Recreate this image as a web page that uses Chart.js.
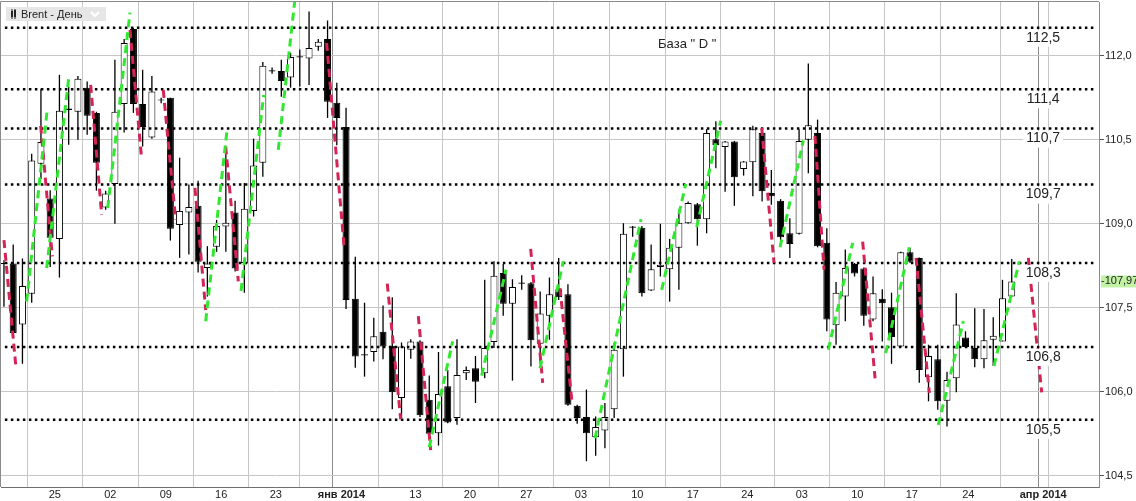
<!DOCTYPE html>
<html>
<head>
<meta charset="utf-8">
<script src="https://cdn.jsdelivr.net/npm/chart.js@4.4.0/dist/chart.umd.min.js"></script>
<style>
  html, body { margin: 0; padding: 0; background: #fff; }
  canvas { display: block; }
</style>
</head>
<body>
<canvas id="myChart" width="1136" height="501"></canvas>
<script>
// daily Brent candles, one slot per session
const opens = [108.28,108.29,107.20,107.75,110.07,109.45,108.73,111.03,111.00,111.43,
  110.98,109.29,109.71,111.14,112.48,111.14,110.54,111.20,111.25,108.98,
  109.20,109.32,108.21,108.59,108.95,109.20,108.30,109.23,110.09,111.72,
  111.73,111.61,111.97,111.95,112.16,112.30,111.16,110.73,107.66,106.65,
  106.71,107.07,106.82,105.89,106.75,106.90,105.86,105.26,106.10,105.53,
  106.33,106.42,106.33,106.89,108.12,107.57,107.93,107.94,106.86,107.36,
  107.83,107.74,105.75,105.55,105.19,105.31,105.69,106.76,108.93,108.93,
  107.81,108.23,108.19,108.57,109.01,109.35,109.08,110.51,110.37,110.47,
  109.98,110.10,110.62,109.55,109.41,108.83,108.82,110.50,110.62,108.66,
  107.19,107.70,108.28,108.20,107.29,107.66,107.51,106.81,108.49,108.39,
  106.26,106.58,105.84,106.24,106.97,106.78,106.58,106.93,106.90,107.70];
const highs = [108.35,108.63,108.38,110.25,111.41,109.60,111.66,111.45,111.64,111.54,
  111.00,109.59,111.93,112.30,112.50,111.75,111.64,111.25,111.25,110.18,
  109.70,109.77,108.60,109.07,110.27,109.41,109.73,110.52,111.89,111.79,
  111.93,112.05,112.11,112.79,112.30,112.63,111.52,111.07,108.41,107.59,
  107.32,107.54,107.69,106.88,106.94,106.92,106.29,106.71,106.39,106.94,
  106.45,106.64,108.00,108.33,108.28,108.01,108.08,107.96,107.79,108.04,
  108.39,107.92,105.77,106.04,105.56,105.80,106.87,109.01,108.96,108.96,
  108.63,109.00,108.73,109.25,109.40,109.37,110.69,110.83,110.48,110.48,
  110.12,110.75,110.63,109.96,109.44,109.10,110.69,111.86,110.86,108.92,
  107.96,108.54,108.30,108.22,108.06,107.83,107.77,108.50,108.57,108.40,
  106.84,106.84,106.36,107.76,107.08,107.49,107.48,107.33,108.00,108.37];
const lows = [107.52,107.00,106.50,107.59,109.80,108.23,108.04,110.41,110.50,110.59,
  109.59,109.25,109.00,110.63,110.98,110.38,110.52,111.15,108.70,108.39,
  108.45,108.13,107.70,108.50,108.50,108.15,107.77,109.13,109.84,111.68,
  111.27,111.43,111.45,111.48,112.09,110.89,110.40,107.48,106.43,106.27,
  106.54,106.58,105.69,105.50,106.59,105.55,105.20,105.04,105.44,105.41,
  106.21,105.80,106.24,106.78,107.36,106.20,107.82,106.45,106.50,106.93,
  107.64,105.75,105.43,104.76,104.86,104.99,105.53,106.27,108.77,107.70,
  107.80,108.06,107.61,107.82,109.00,108.61,108.83,109.99,109.57,109.32,
  109.86,109.49,109.40,109.34,108.63,108.39,108.81,109.90,108.58,107.08,
  106.84,107.26,108.06,107.18,107.26,106.90,106.50,106.80,108.30,106.16,
  105.83,105.68,105.38,105.99,106.78,106.44,106.42,106.46,106.90,107.70];
const closes = [108.30,107.05,107.89,110.13,110.46,108.75,111.02,111.06,111.59,110.93,
  110.09,109.54,111.00,112.23,111.14,110.73,111.36,111.22,108.91,109.23,
  109.30,108.32,108.29,108.96,109.02,108.20,109.27,110.04,111.82,111.74,
  111.55,111.98,111.99,112.14,112.25,111.18,110.89,107.64,106.63,106.67,
  106.99,106.81,105.99,106.81,106.90,105.58,105.25,105.96,105.45,106.30,
  106.39,106.18,106.78,108.07,107.57,107.87,107.95,106.92,107.40,107.74,
  107.69,105.77,105.53,105.26,105.37,105.55,106.75,108.82,108.95,107.76,
  108.19,108.27,108.57,109.02,109.37,109.08,110.62,110.40,110.47,109.83,
  110.11,110.69,109.58,109.49,108.76,108.64,110.48,110.76,108.60,107.29,
  107.77,108.21,108.11,107.36,107.76,107.58,106.98,108.49,108.32,106.39,
  106.64,105.83,106.21,107.20,106.80,106.58,106.92,107.00,107.67,107.97];

// swing legs: [fromSlot, fromPrice, toSlot, toPrice]
const greenLegs = [[2.45,107.61,4.68,111.04],[4.62,108.21,7.03,111.64],[11.22,109.28,13.63,112.77],
  [21.82,107.26,24.16,110.72],[25.64,107.80,28.09,111.30],[29.67,110.32,31.5,113.05],
  [46.00,105.01,48.53,106.90],[51.67,106.29,54.30,108.18],[57.98,106.42,60.50,108.33],
  [63.93,105.17,68.90,109.08],[71.14,107.82,73.74,109.71],[74.93,108.94,77.52,110.84],
  [83.94,108.58,86.46,110.49],[89.16,106.75,91.80,108.66],[95.37,106.69,97.92,108.58],
  [101.06,105.41,103.77,107.26],[107.08,106.46,109.82,108.33]];
const redLegs = [[0.00,108.71,1.30,106.43],[3.97,110.75,5.23,108.42],[9.38,111.48,10.57,109.16],
  [13.63,112.46,14.89,110.16],[17.23,111.39,18.57,109.07],[20.66,109.64,21.82,107.46],
  [23.98,110.38,25.35,107.97],[34.90,112.23,36.81,108.55],[41.46,107.93,42.91,105.51],
  [44.82,107.35,46.15,104.96],[56.97,108.55,58.27,106.16],[60.14,107.85,61.47,105.77],
  [81.96,110.71,83.29,108.30],[87.72,110.57,88.70,108.18],[92.88,108.68,94.22,106.24],
  [98.65,108.39,100.09,105.98],[110.80,108.39,112.24,105.99]];

const levels = [112.5, 111.4, 110.7, 109.7, 108.3, 106.8, 105.5];
const levelFrom = 0.1, levelTo = 118.2;

const yTicks = [104.5, 106.0, 107.5, 109.0, 110.5, 112.0];
const weekTicks = [5.5, 11.5, 17.5, 23.5, 29.4, 34.5, 44.5, 50.4, 56.5, 62.4, 68.5, 74.5, 80.4, 86.3, 92.3, 98.2, 104.3, 111.3];
const weekLabels = ['25','02','09','16','23','','13','20','27','03','10','17','24','03','10','17','24',''];
const monthTicks = [36.5, 112.4];
const monthLabels = ['янв 2014', 'апр 2014'];

const lastPrice = 107.97;
const baseNote = { text: 'База " D "', x: 73.9, y: 112.2 };

const xMin = -0.32, xMax = 118.44, yMin = 104.30, yMax = 112.96;
const green = '#30e830', red = '#d42456';

const fmt = v => v.toFixed(1).replace('.', ',');
const allTicks = weekTicks.map((v, i) => ({ value: v, label: weekLabels[i], month: false }))
  .concat(monthTicks.map((v, i) => ({ value: v, label: monthLabels[i], month: true })))
  .sort((a, b) => a.value - b.value);

const slots = opens.map((_, i) => i);
const datasets = [];

datasets.push({
  type: 'bar',
  data: slots.map(i => ({ x: i, y: [lows[i], highs[i]] })),
  backgroundColor: '#000',
  borderWidth: 0,
  barThickness: 1.3,
  inflateAmount: 0,
  grouped: false,
  order: 4
});
datasets.push({
  type: 'bar',
  data: slots.map(i => ({ x: i, y: [Math.min(opens[i], closes[i]), Math.max(opens[i], closes[i])] })),
  backgroundColor: slots.map(i => closes[i] >= opens[i] ? '#fff' : '#000'),
  borderColor: '#000',
  borderWidth: 1,
  borderSkipped: false,
  barThickness: 7,
  inflateAmount: 0,
  grouped: false,
  order: 3
});

levels.forEach(v => datasets.push({
  type: 'line',
  data: [{ x: levelFrom, y: v }, { x: levelTo, y: v }],
  borderColor: '#000',
  borderWidth: 2.5,
  borderDash: [2.5, 3.5],
  pointRadius: 0,
  order: 2
}));

const addLeg = (leg, color) => datasets.push({
  type: 'line',
  data: [{ x: leg[0], y: leg[1] }, { x: leg[2], y: leg[3] }],
  borderColor: color,
  borderWidth: 3,
  borderDash: [8, 5],
  borderCapStyle: 'butt',
  pointRadius: 0,
  order: 1
});
greenLegs.forEach(l => addLeg(l, green));
redLegs.forEach(l => addLeg(l, red));

const extras = {
  id: 'extras',
  beforeDatasetsDraw(chart) {
    const { ctx, chartArea: a } = chart;
    ctx.save();
    ctx.strokeStyle = '#8a8a8a';
    ctx.lineWidth = 1;
    ctx.beginPath();
    ctx.moveTo(a.left - 0.5, a.bottom);
    ctx.lineTo(a.left - 0.5, a.top - 0.5);
    ctx.lineTo(a.right, a.top - 0.5);
    ctx.stroke();
    ctx.restore();
  },
  afterDatasetsDraw(chart) {
    const { ctx } = chart;
    const xs = chart.scales.x, ys = chart.scales.y;
    ctx.save();
    ctx.font = '14px "Liberation Sans", Arial, sans-serif';
    ctx.textAlign = 'center';
    ctx.textBaseline = 'middle';
    const lx = xs.getPixelForValue(monthTicks[1]);
    levels.forEach(v => {
      const py = ys.getPixelForValue(v);
      const t = fmt(v);
      const w = ctx.measureText(t).width + 6;
      ctx.fillStyle = '#fff';
      ctx.fillRect(lx - w / 2, py + 2, w, 17);
      ctx.fillStyle = '#222';
      ctx.fillText(t, lx, py + 10);
    });
    ctx.font = '13px "Liberation Sans", Arial, sans-serif';
    ctx.fillStyle = '#222';
    ctx.fillText(baseNote.text, xs.getPixelForValue(baseNote.x), ys.getPixelForValue(baseNote.y));
    ctx.restore();
  },
  afterDraw(chart) {
    const { ctx, chartArea: a } = chart;
    const ys = chart.scales.y;
    ctx.save();
    // last price tag
    const py = ys.getPixelForValue(lastPrice);
    ctx.fillStyle = '#c2f3a4';
    ctx.fillRect(a.right + 2, py - 6, chart.width - a.right - 2, 12);
    ctx.fillStyle = '#222';
    ctx.font = '11px "Liberation Sans", Arial, sans-serif';
    ctx.textAlign = 'left';
    ctx.textBaseline = 'middle';
    ctx.fillText('-' + lastPrice.toFixed(2).replace('.', ','), a.right + 2, py);
    // instrument header
    ctx.fillStyle = '#e6e6e6';
    ctx.fillRect(6, 7, 100, 14);
    ctx.fillStyle = '#222';
    ctx.fillRect(11, 11, 2, 6);
    ctx.fillRect(14, 10, 2, 7);
    ctx.fillRect(11.5, 9, 1, 10);
    ctx.fillRect(14.5, 9, 1, 10);
    ctx.font = '11px "Liberation Sans", Arial, sans-serif';
    ctx.fillText('Brent - День', 21, 14.5);
    ctx.strokeStyle = '#fff';
    ctx.lineWidth = 2;
    ctx.beginPath();
    ctx.moveTo(91, 12);
    ctx.lineTo(95, 16);
    ctx.lineTo(99, 12);
    ctx.stroke();
    ctx.restore();
  }
};

new Chart(document.getElementById('myChart'), {
  type: 'bar',
  data: { datasets: datasets },
  options: {
    responsive: false,
    animation: false,
    events: [],
    layout: { padding: { left: 1, top: 2, right: 0, bottom: 0 } },
    plugins: { legend: { display: false }, tooltip: { enabled: false } },
    scales: {
      x: {
        type: 'linear',
        min: xMin,
        max: xMax,
        offset: false,
        afterBuildTicks: s => { s.ticks = allTicks.map(t => ({ value: t.value })); },
        afterFit: s => { s.height = 14; s.paddingLeft = 0; s.paddingRight = 0; },
        grid: {
          color: c => (c.tick && monthTicks.includes(c.tick.value)) ? '#8c8c8c' : '#c6c6c6',
          drawTicks: false
        },
        border: { color: '#6e6e6e' },
        ticks: {
          autoSkip: false,
          maxRotation: 0,
          padding: 1,
          color: '#222',
          font: c => ({ family: 'Liberation Sans', size: 11,
            weight: (c.tick && monthTicks.includes(c.tick.value)) ? 'bold' : 'normal' }),
          callback: (v, i) => allTicks[i].label
        }
      },
      y: {
        position: 'right',
        min: yMin,
        max: yMax,
        afterBuildTicks: s => { s.ticks = yTicks.map(v => ({ value: v })); },
        afterFit: s => { s.width = 37; s.paddingTop = 0; s.paddingBottom = 0; },
        grid: { color: '#c6c6c6', tickLength: 5, tickColor: '#555' },
        border: { color: '#8a8a8a' },
        ticks: {
          padding: 1,
          color: '#222',
          font: { family: 'Liberation Sans', size: 11 },
          callback: v => fmt(v)
        }
      }
    }
  },
  plugins: [extras]
});
</script>
</body>
</html>
